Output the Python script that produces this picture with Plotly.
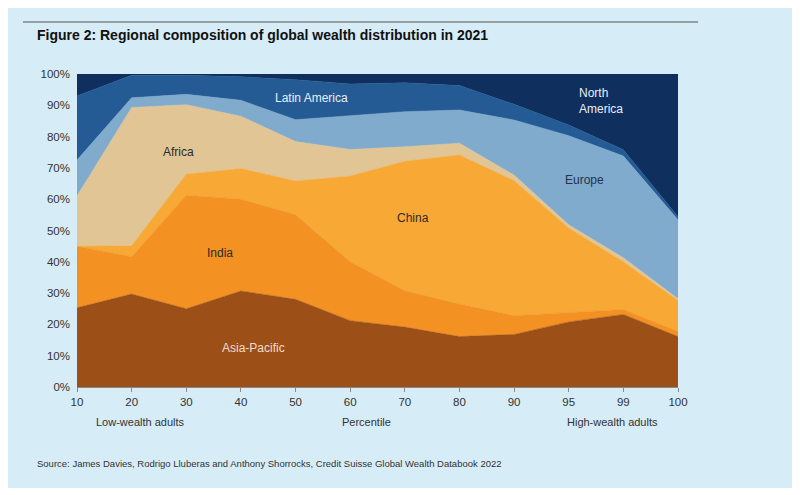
import plotly.graph_objects as go

percentiles = ["10", "20", "30", "40", "50", "60", "70", "80", "90", "95", "99", "100"]

asia_pacific = [25.3, 29.7, 25.0, 30.7, 28.0, 21.2, 19.1, 16.1, 16.8, 20.8, 23.2, 16.1]
india = [19.7, 11.9, 36.3, 29.3, 27.0, 18.8, 11.6, 10.4, 6.0, 2.9, 1.6, 1.6]
china = [0.0, 3.5, 6.7, 9.8, 10.8, 27.4, 41.3, 47.6, 43.1, 27.1, 15.2, 9.9]
africa = [16.0, 44.2, 22.2, 16.7, 12.6, 8.5, 4.6, 3.8, 1.8, 1.0, 1.3, 0.6]
europe = [11.5, 3.1, 3.3, 5.1, 7.0, 10.7, 11.2, 10.6, 17.6, 28.5, 32.5, 25.2]
latin_america = [20.5, 7.2, 6.1, 7.5, 12.8, 10.2, 9.2, 7.8, 5.0, 3.4, 2.0, 1.0]
north_america = [7.0, 0.4, 0.4, 0.9, 1.8, 3.2, 2.8, 3.7, 9.7, 16.3, 24.2, 45.6]

series = [
    ("Asia-Pacific", asia_pacific, "#9C4F16"),
    ("India", india, "#F39123"),
    ("China", china, "#F8A835"),
    ("Africa", africa, "#E1C595"),
    ("Europe", europe, "#80ABCC"),
    ("Latin America", latin_america, "#245B94"),
    ("North America", north_america, "#0F2F5E"),
]

fig = go.Figure()
for name, vals, col in series:
    fig.add_trace(go.Scatter(
        x=percentiles, y=vals, name=name, mode="lines",
        stackgroup="one", groupnorm="percent" if name == "Asia-Pacific" else None,
        line=dict(color=col, width=0.5), fillcolor=col,
        hoverinfo="x+y+name",
    ))

FONT = "Liberation Sans, Arial, sans-serif"
TXT = "#333333"

# figure is offset by the 8px page margin
OFF = 8
W, H = 784, 480
L = 77 - OFF
T = 74 - OFF
R = W - (678 - OFF)
B = H - (387 - OFF)
PW, PH = W - L - R, H - T - B


def px(xp):
    return (xp - OFF - L) / PW


def py(yp):
    return (H - B - (yp - OFF)) / PH


annotations = []


def label(text, x, y, color, size=12, xanchor="center", align="center"):
    annotations.append(dict(text=text, x=px(x), y=py(y), xref="paper", yref="paper",
                            showarrow=False, xanchor=xanchor, yanchor="middle", align=align,
                            font=dict(family=FONT, size=size, color=color)))


label("Africa", 178, 152, "#2b2b2b")
label("Latin America", 311, 98, "#E8EEF6")
label("India", 220, 253, "#2b2b2b")
label("China", 413, 218, "#2b2b2b")
label("Asia-Pacific", 253, 348, "#F3DCCB")
label("Europe", 584, 180, "#23324F")
label("North<br>America", 577, 101, "#E8EEF6", xanchor="left", align="left")

label("Low-wealth adults", 140, 422, TXT, size=11)
label("Percentile", 366, 422, TXT, size=11)
label("High-wealth adults", 612, 422, TXT, size=11)
label("Source: James Davies, Rodrigo Lluberas and Anthony Shorrocks, Credit Suisse Global Wealth Databook 2022",
      35, 463, TXT, size=9.5, xanchor="left", align="left")
label("<b>Figure 2: Regional composition of global wealth distribution in 2021</b>",
      35, 35, "#111111", size=14, xanchor="left", align="left")

shapes = [
    dict(type="line", xref="paper", yref="paper", x0=px(23), x1=px(698), y0=py(22), y1=py(22),
         line=dict(color="#555555", width=1)),
]

fig.update_layout(
    width=W, height=H,
    margin=dict(l=L, r=R, t=T, b=B),
    paper_bgcolor="#D6ECF6",
    plot_bgcolor="rgba(0,0,0,0)",
    showlegend=False,
    annotations=annotations,
    shapes=shapes,
    font=dict(family=FONT, size=11, color=TXT),
    xaxis=dict(type="category", range=[0, 11], showgrid=False, zeroline=False,
               showline=True, linecolor="#8a8a8a", linewidth=1,
               ticks="outside", ticklen=4, tickcolor="#8a8a8a",
               tickfont=dict(family=FONT, size=11.5, color=TXT)),
    yaxis=dict(range=[0, 100], dtick=10, ticksuffix="%", showgrid=False, zeroline=False,
               showline=False, ticks="", ticklabelstandoff=6,
               tickfont=dict(family=FONT, size=11.5, color=TXT)),
)

fig.write_html("out.html")
